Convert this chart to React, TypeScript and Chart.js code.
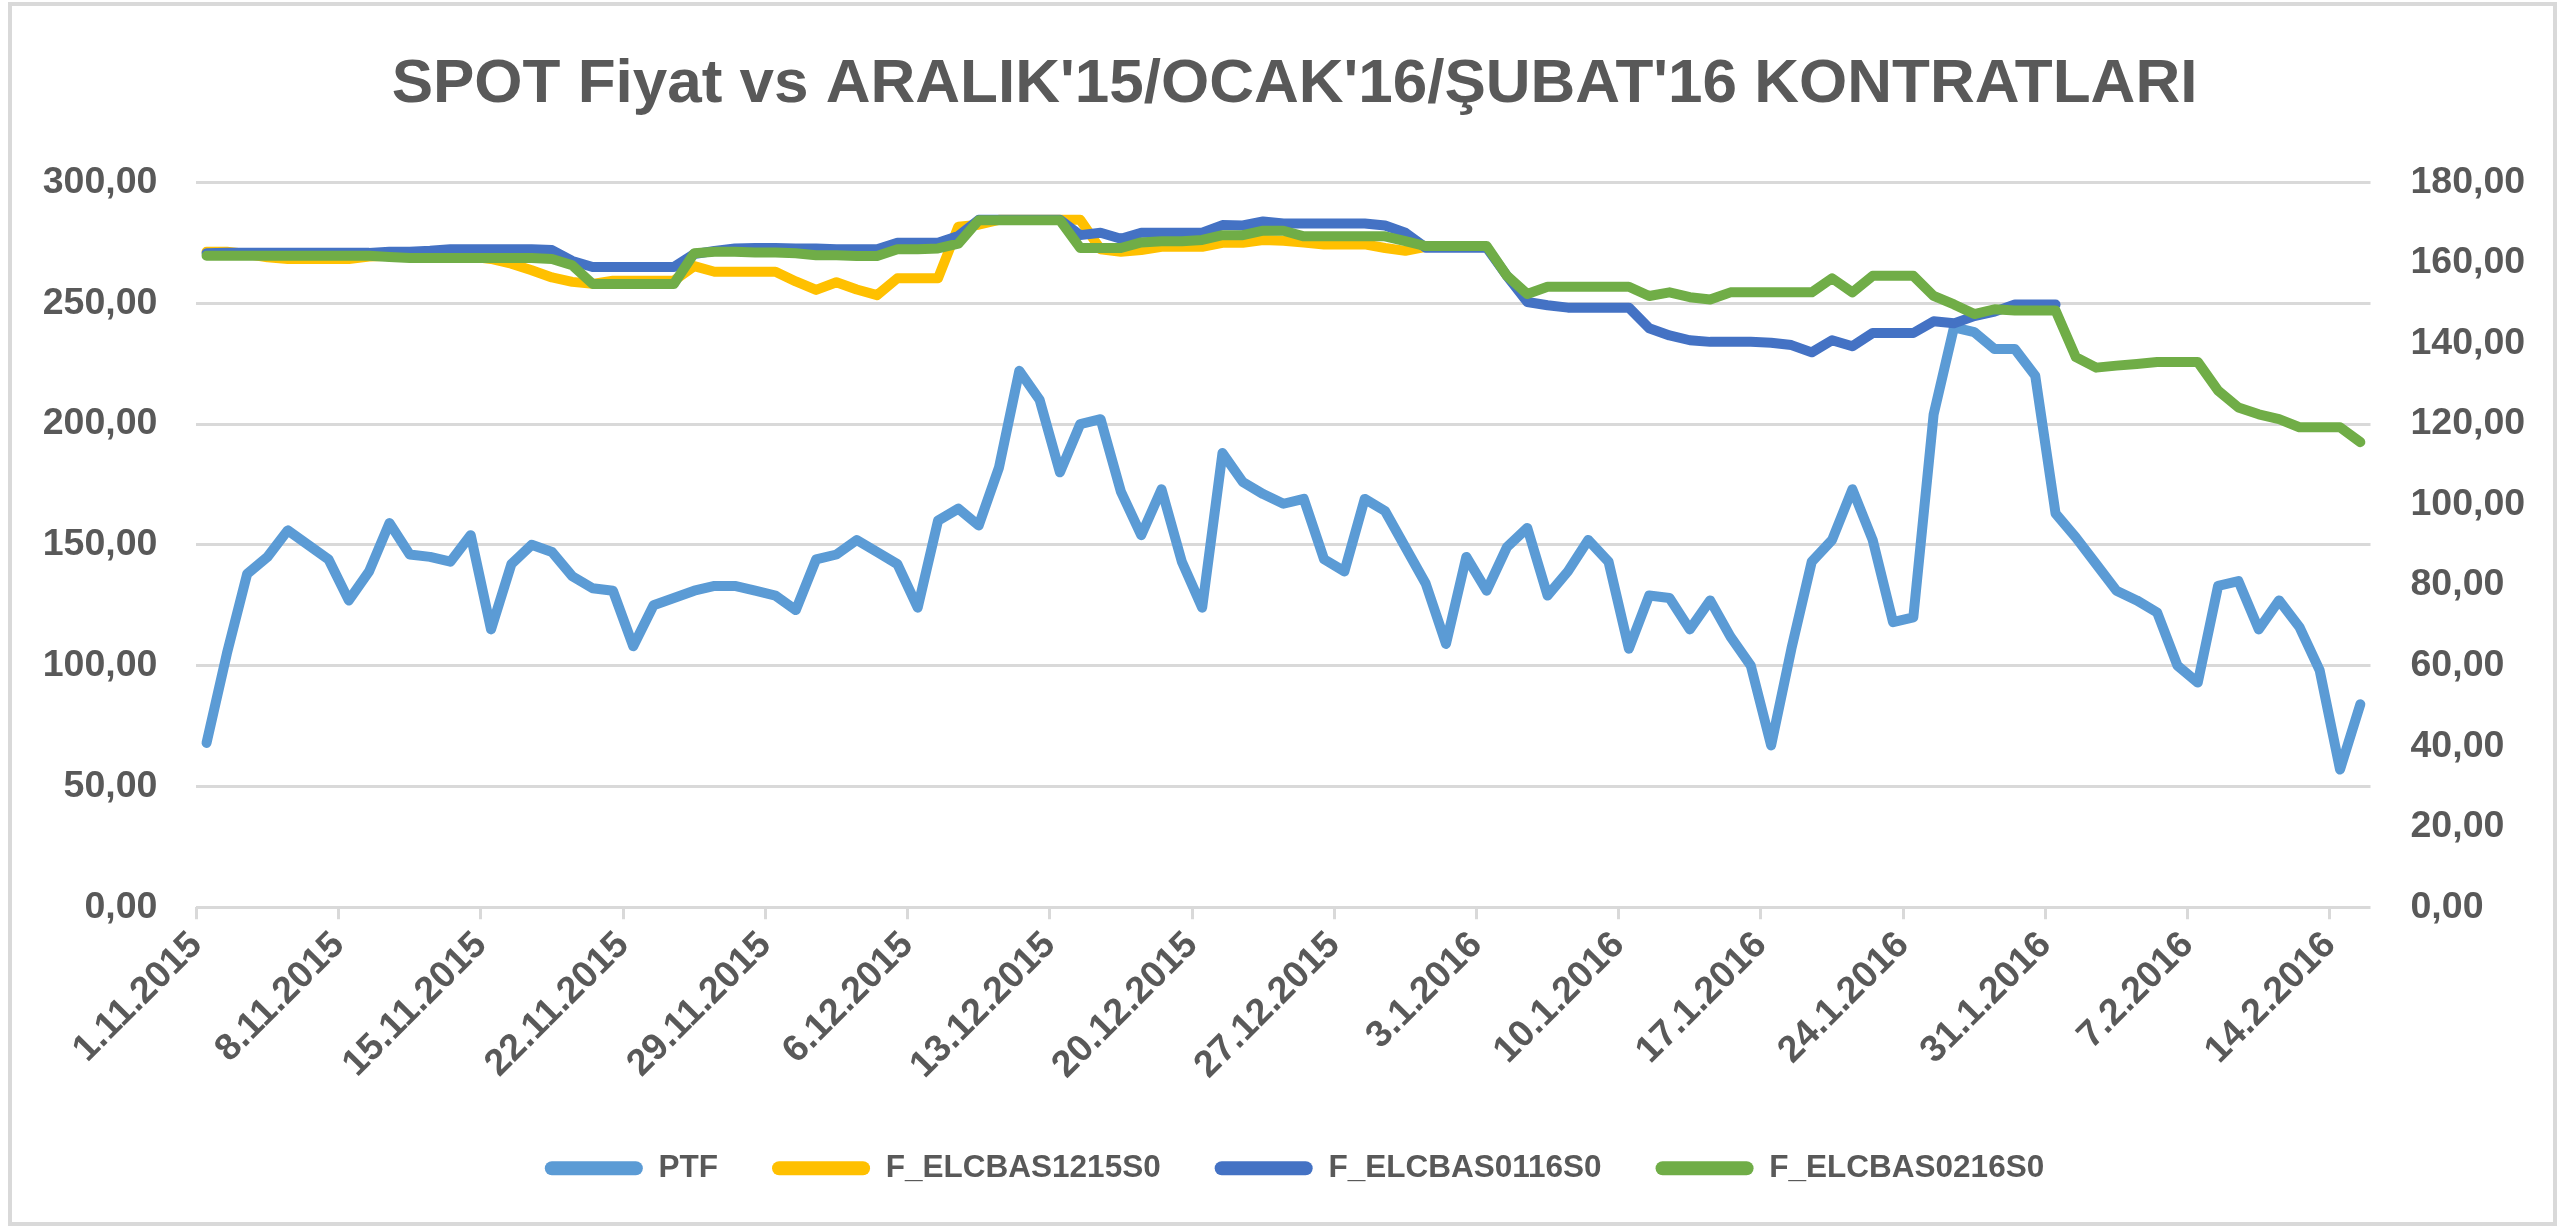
import { useEffect, useRef } from "react";
import { Chart, registerables } from "chart.js";

Chart.register(...registerables);

const chartTitle = "SPOT Fiyat vs ARALIK'15/OCAK'16/ŞUBAT'16 KONTRATLARI";

const tickLabels = [
  "1.11.2015", "8.11.2015", "15.11.2015", "22.11.2015", "29.11.2015", "6.12.2015",
  "13.12.2015", "20.12.2015", "27.12.2015", "3.1.2016", "10.1.2016", "17.1.2016",
  "24.1.2016", "31.1.2016", "7.2.2016", "14.2.2016",
];

const seriesNames = ["PTF", "F_ELCBAS1215S0", "F_ELCBAS0116S0", "F_ELCBAS0216S0"];
const seriesColors = ["#5B9BD5", "#FFC000", "#4472C4", "#70AD47"];

// PTF (left axis), daily from 1.11.2015 to 15.2.2016
const ptf = [
  68, 105, 138, 145, 156, 150, 144, 127, 139, 159,
  146, 145, 143, 154, 115, 142, 150, 147, 137, 132,
  131, 108, 125, 128, 131, 133, 133, 131, 129, 123,
  144, 146, 152, 147, 142, 124, 160, 165, 158, 182,
  222, 210, 180, 200, 202, 172, 154, 173, 143, 124,
  188, 176, 171, 167, 169, 144, 139, 169, 164, 149,
  134, 109, 145, 131, 149, 157, 129, 139, 152, 143,
  107, 129, 128, 115, 127, 112, 100, 67, 107, 143,
  152, 173, 152, 118, 120, 204, 240, 238, 231, 231,
  220, 163, 153, 142, 131, 127, 122, 100, 93, 133,
  135, 115, 127, 116, 98, 57, 84,
];

// Futures (right axis)
const fElcbas1215 = [
  162.8, 162.8, 162.2, 161.4, 161.0, 161.0, 161.0, 161.0, 161.6, 161.8,
  161.8, 161.8, 161.8, 161.6, 161.0, 159.8, 158.2, 156.4, 155.3, 154.8,
  155.6, 155.6, 155.6, 155.6, 159.2, 157.8, 157.8, 157.8, 157.8, 155.4,
  153.3, 155.2, 153.4, 152.0, 156.2, 156.2, 156.2, 169.0, 169.5, 170.7,
  170.7, 170.7, 170.7, 170.7, 163.4, 162.8, 163.2, 164.0, 164.0, 164.0,
  165.0, 165.0, 165.7, 165.5, 165.1, 164.6, 164.6, 164.6, 163.7, 163.0,
  164.0,
];

const fElcbas0116 = [
  162.4, 162.5, 162.5, 162.5, 162.5, 162.5, 162.5, 162.5, 162.5, 162.8,
  162.8, 163.0, 163.4, 163.4, 163.4, 163.4, 163.4, 163.2, 160.5, 159.0,
  159.0, 159.0, 159.0, 159.0, 162.2, 163.0, 163.6, 163.7, 163.7, 163.6,
  163.6, 163.4, 163.4, 163.4, 165.0, 165.0, 165.0, 166.7, 170.7, 170.7,
  170.7, 170.7, 170.7, 166.9, 167.5, 166.0, 167.5, 167.5, 167.5, 167.5,
  169.4, 169.3, 170.3, 169.8, 169.8, 169.8, 169.8, 169.8, 169.3, 167.5,
  163.8, 163.8, 163.8, 163.8, 156.8, 150.3, 149.5, 148.9, 148.9, 148.9,
  148.9, 143.8, 142.0, 140.8, 140.4, 140.4, 140.4, 140.2, 139.6, 137.8,
  140.8, 139.3, 142.6, 142.6, 142.6, 145.5, 145.0, 146.8, 147.9, 149.7,
  149.7, 149.7,
];

const fElcbas0216 = [
  161.8, 161.8, 161.8, 161.8, 161.8, 161.8, 161.8, 161.8, 161.8, 161.5,
  161.2, 161.2, 161.2, 161.2, 161.2, 161.2, 161.2, 161.0, 159.4, 154.8,
  154.8, 154.8, 154.8, 154.8, 162.4, 162.8, 162.8, 162.6, 162.6, 162.4,
  161.9, 161.9, 161.7, 161.7, 163.4, 163.4, 163.6, 164.8, 170.6, 170.6,
  170.6, 170.6, 170.6, 163.7, 163.7, 163.7, 165.1, 165.4, 165.4, 165.7,
  166.9, 166.9, 168.0, 168.0, 166.6, 166.6, 166.6, 166.6, 166.6, 165.4,
  164.2, 164.2, 164.2, 164.2, 156.8, 152.3, 154.1, 154.1, 154.1, 154.1,
  154.1, 151.8, 152.7, 151.5, 150.9, 152.7, 152.7, 152.7, 152.7, 152.7,
  156.2, 152.7, 156.8, 156.8, 156.8, 151.8, 149.7, 147.3, 148.5, 148.2,
  148.2, 148.2, 136.6, 134.0, 134.5, 134.9, 135.4, 135.4, 135.4, 128.3,
  124.1, 122.4, 121.2, 119.2, 119.2, 119.2, 115.5,
];

const totalDays = 107;
const daysPerTick = 7;

const FONT = "'Liberation Sans', Arial, sans-serif";
const TEXT = "#595959";
const GRID = "#D9D9D9";

const toPoints = (vals: number[]) => vals.map((v, i) => ({ x: i + 0.5, y: v }));
const fmt = (v: number | string) => Number(v).toFixed(2).replace(".", ",");

export default function App() {
  const ref = useRef<HTMLCanvasElement | null>(null);

  useEffect(() => {
    const canvas = ref.current;
    if (!canvas) return;
    const seriesData = [ptf, fElcbas1215, fElcbas0116, fElcbas0216];
    const orders = [3, 2, 1, 0];
    const chart = new Chart(canvas, {
      type: "line",
      data: {
        datasets: seriesData.map((vals, i) => ({
          label: seriesNames[i],
          data: toPoints(vals),
          borderColor: seriesColors[i],
          backgroundColor: seriesColors[i],
          yAxisID: i === 0 ? "y" : "y1",
          order: orders[i],
        })),
      },
      options: {
        animation: false,
        responsive: false,
        devicePixelRatio: 1,
        events: [],
        layout: { padding: { left: 17, right: 0, top: 0, bottom: 35 } },
        elements: {
          line: {
            borderWidth: 10,
            tension: 0,
            borderCapStyle: "round",
            borderJoinStyle: "round",
          },
          point: { radius: 0, hoverRadius: 0 },
        },
        plugins: {
          title: {
            display: true,
            text: chartTitle,
            color: TEXT,
            font: { family: FONT, size: 62, weight: "bold", lineHeight: 1.2 },
            padding: { top: 48, bottom: 60 },
          },
          legend: {
            position: "bottom",
            labels: {
              boxWidth: 98,
              boxHeight: 14,
              padding: 54,
              color: TEXT,
              font: { family: FONT, size: 31.5, weight: "bold" },
              generateLabels: (c: any) =>
                c.data.datasets.map((ds: any, i: number) => ({
                  text: ds.label,
                  fillStyle: ds.borderColor,
                  strokeStyle: ds.borderColor,
                  lineWidth: 0,
                  borderRadius: 7,
                  hidden: false,
                  datasetIndex: i,
                  fontColor: TEXT,
                })),
            },
          },
          tooltip: { enabled: false },
        },
        scales: {
          x: {
            type: "linear",
            min: 0,
            max: totalDays,
            afterBuildTicks: (s: any) => {
              s.ticks = tickLabels.map((_, i) => ({ value: i * daysPerTick }));
            },
            afterFit: (s: any) => {
              s.height = 191.25;
            },
            grid: {
              display: true,
              drawOnChartArea: false,
              drawTicks: true,
              tickLength: 12,
              color: GRID,
              lineWidth: 3,
            },
            border: { display: false },
            ticks: {
              autoSkip: false,
              maxRotation: 45,
              minRotation: 45,
              padding: 4,
              color: TEXT,
              font: { family: FONT, size: 37.5, weight: "bold" },
              callback: (v: any) => tickLabels[Math.round(Number(v) / daysPerTick)] ?? "",
            },
          },
          y: {
            position: "left",
            min: 0,
            max: 300,
            afterFit: (s: any) => {
              s.width = 179.4;
            },
            grid: { color: GRID, lineWidth: 3, drawTicks: false },
            border: { display: false },
            ticks: {
              stepSize: 50,
              padding: 39,
              color: TEXT,
              font: { family: FONT, size: 37.5, weight: "bold" },
              callback: (v: any) => fmt(v),
            },
          },
          y1: {
            position: "right",
            min: 0,
            max: 180,
            afterFit: (s: any) => {
              s.width = 201.5;
            },
            grid: { display: false, drawTicks: false },
            border: { display: false },
            ticks: {
              stepSize: 20,
              padding: 40,
              color: TEXT,
              font: { family: FONT, size: 37.5, weight: "bold" },
              callback: (v: any) => fmt(v),
            },
          },
        },
      } as any,
    });
    return () => chart.destroy();
  }, []);

  return (
    <div
      style={{
        position: "fixed",
        left: 0,
        top: 0,
        width: 2572,
        height: 1229,
        background: "#ffffff",
        overflow: "hidden",
      }}
    >
      <canvas
        ref={ref}
        width={2572}
        height={1229}
        style={{ position: "absolute", left: 0, top: 0, width: 2572, height: 1229, display: "block" }}
      />
      <div
        style={{
          position: "absolute",
          left: 8,
          top: 2,
          width: 2549,
          height: 1224,
          border: "4px solid #D9D9D9",
          boxSizing: "border-box",
          pointerEvents: "none",
        }}
      />
    </div>
  );
}
